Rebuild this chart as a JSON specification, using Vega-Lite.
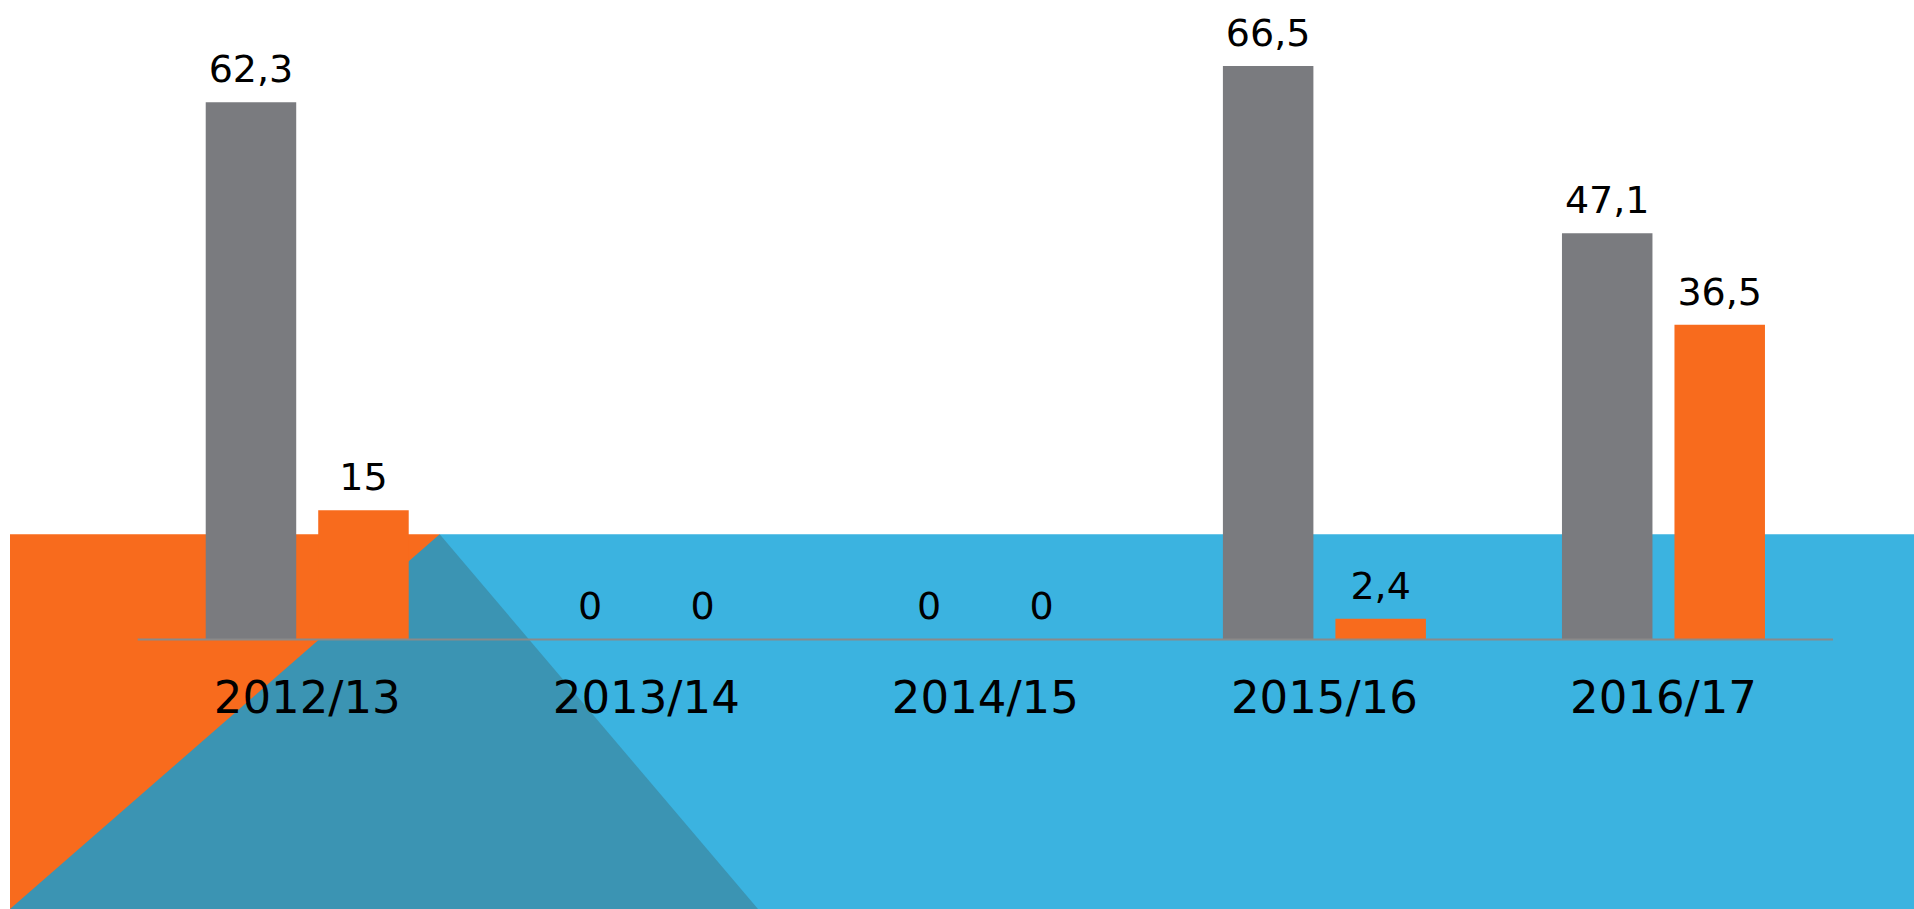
{
  "$schema": "https://vega.github.io/schema/vega-lite/v6.json",
  "width": 1914,
  "height": 909,
  "padding": 0,
  "autosize": {"type": "fit", "contains": "padding"},
  "background": "white",
  "config": {"view": {"stroke": null}},
  "datasets": {
    "bars": [
      {"year": "2012/13", "series": "A", "value": 62.3},
      {"year": "2012/13", "series": "B", "value": 15},
      {"year": "2013/14", "series": "A", "value": 0},
      {"year": "2013/14", "series": "B", "value": 0},
      {"year": "2014/15", "series": "A", "value": 0},
      {"year": "2014/15", "series": "B", "value": 0},
      {"year": "2015/16", "series": "A", "value": 66.5},
      {"year": "2015/16", "series": "B", "value": 2.4},
      {"year": "2016/17", "series": "A", "value": 47.1},
      {"year": "2016/17", "series": "B", "value": 36.5}
    ],
    "panels": [
      {"part": "orange", "xa": -0.3766, "xb": 0.8907, "ya": 12.2, "yb": -31.25},
      {"part": "blue", "xa": 0.8907, "xb": 5.2389, "ya": 12.2, "yb": -31.25}
    ],
    "wedge": [
      {"xp": -0.3766, "yp": -31.25},
      {"xp": 0.8907, "yp": 12.2},
      {"xp": 1.8295, "yp": -31.25}
    ]
  },
  "resolve": {"scale": {"x": "independent", "color": "independent"}},
  "layer": [
    {
      "layer": [
        {
          "data": {"name": "panels"},
          "mark": {"type": "rect"},
          "encoding": {
            "x": {"field": "xa", "type": "quantitative", "scale": {"domain": [-0.4061, 5.2389], "nice": false, "zero": false}, "axis": null},
            "x2": {"field": "xb"},
            "y": {"field": "ya", "type": "quantitative", "scale": {"domain": [-31.25, 74.15], "nice": false, "zero": false}, "axis": null},
            "y2": {"field": "yb"},
            "color": {"field": "part", "type": "nominal", "scale": {"domain": ["orange", "blue"], "range": ["#f86b1d", "#3bb3e0"]}, "legend": null}
          }
        },
        {
          "data": {"name": "wedge"},
          "mark": {"type": "area", "color": "#3b94b3", "interpolate": "linear"},
          "encoding": {
            "x": {"field": "xp", "type": "quantitative", "sort": null},
            "y": {"field": "yp", "type": "quantitative"},
            "y2": {"datum": -31.25}
          }
        }
      ]
    },
    {
      "data": {"name": "bars"},
      "layer": [
        {
          "mark": {"type": "bar"},
          "encoding": {
            "x": {"field": "year", "type": "nominal", "sort": null, "scale": {"paddingInner": 0, "paddingOuter": 0.3225, "align": 0.6296, "round": false}, "axis": null},
            "xOffset": {"field": "series", "type": "nominal", "sort": null, "scale": {"paddingInner": 0.1956, "paddingOuter": 0.6047, "round": false}},
            "y": {"field": "value", "type": "quantitative", "axis": null},
            "color": {"field": "series", "type": "nominal", "scale": {"domain": ["A", "B"], "range": ["#7a7b7f", "#f86b1d"]}, "legend": null}
          }
        },
        {
          "transform": [{"calculate": "replace(format(datum.value, '.1~f'), '.', ',')", "as": "label"}],
          "mark": {"type": "text", "baseline": "alphabetic", "align": "center", "dy": -20, "font": "DejaVu Sans", "fontSize": 38, "color": "#000000"},
          "encoding": {
            "x": {"field": "year", "type": "nominal", "sort": null},
            "xOffset": {"field": "series", "type": "nominal", "sort": null},
            "y": {"field": "value", "type": "quantitative"},
            "text": {"field": "label"}
          }
        },
        {
          "transform": [{"filter": "datum.series === 'A'"}],
          "mark": {"type": "text", "baseline": "alphabetic", "align": "center", "font": "DejaVu Sans", "fontSize": 45, "color": "#000000"},
          "encoding": {
            "x": {"field": "year", "type": "nominal", "sort": null},
            "y": {"datum": -8.52},
            "text": {"field": "year"}
          }
        }
      ]
    },
    {
      "data": {"values": [{}]},
      "mark": {"type": "rule", "color": "#8a8a8a", "strokeWidth": 2},
      "encoding": {
        "x": {"datum": 0, "type": "quantitative", "scale": {"domain": [-0.4061, 5.2389], "nice": false, "zero": false}, "axis": null},
        "x2": {"datum": 5},
        "y": {"datum": 0, "type": "quantitative"}
      }
    }
  ]
}
